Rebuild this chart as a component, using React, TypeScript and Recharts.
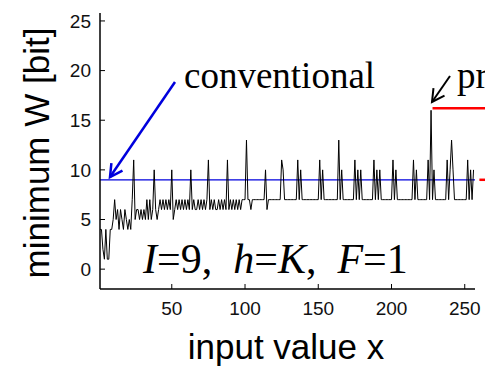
import { LineChart, Line, XAxis, YAxis, ReferenceLine } from "recharts";

// minimum W [bit] for input value x = 1..256
const minWidth = [
  4, 4, 2, 1, 4, 1, 1, 4, 4, 5, 7, 5, 6, 4, 6, 5,
  4, 6, 5, 4, 5, 4, 7, 11, 5, 6, 6, 5, 6, 5, 6, 5,
  7, 5, 7, 5, 6, 10, 6, 5, 6, 7, 6, 7, 6, 7, 6, 7,
  6, 10, 5, 6, 7, 6, 7, 6, 7, 6, 7, 6, 7, 6, 10, 6,
  7, 6, 6, 7, 6, 7, 6, 7, 6, 7, 11, 6, 7, 6, 7, 6,
  6, 7, 6, 7, 6, 7, 6, 11, 6, 7, 6, 7, 6, 7, 6, 7,
  6, 7, 7, 7, 13, 7, 7, 6, 7, 7, 7, 7, 7, 7, 7, 7,
  7, 10, 6, 7, 7, 7, 7, 7, 7, 7, 7, 7, 11, 10, 7, 7,
  7, 7, 7, 7, 7, 7, 7, 11, 7, 10, 7, 7, 7, 7, 7, 7,
  7, 7, 7, 7, 7, 7, 11, 7, 10, 7, 7, 7, 7, 7, 7, 7,
  7, 7, 7, 13, 7, 10, 7, 7, 7, 7, 7, 7, 7, 7, 11, 7,
  10, 7, 10, 7, 7, 7, 7, 7, 7, 7, 7, 11, 7, 10, 7, 10,
  7, 7, 7, 7, 7, 7, 7, 7, 11, 7, 10, 7, 7, 7, 7, 7,
  7, 7, 7, 7, 7, 7, 11, 7, 10, 7, 7, 7, 7, 7, 7, 7,
  11, 7, 16, 7, 10, 7, 7, 7, 7, 7, 7, 7, 7, 11, 7, 10,
  13, 10, 7, 7, 7, 7, 7, 7, 7, 7, 7, 11, 7, 10, 7, 10,
];

const xTicks = [50, 100, 150, 200, 250];
const yTicks = [0, 5, 10, 15, 20, 25];
const conventionalLevel = 9;
const proposedLevel = 16.2;

const data = minWidth.map((w, i) => ({ x: i + 1, w }));

const sans = "'Liberation Sans', Arial, sans-serif";
const serif = "'Liberation Serif', 'Times New Roman', serif";

function Arrow({ x1, y1, x2, y2, color, width }: { x1: number; y1: number; x2: number; y2: number; color: string; width: number }) {
  const ang = Math.atan2(y1 - y2, x1 - x2);
  const len = 14;
  const a = [x2 + len * Math.cos(ang + 0.5), y2 + len * Math.sin(ang + 0.5)];
  const b = [x2 + len * Math.cos(ang - 0.5), y2 + len * Math.sin(ang - 0.5)];
  return (
    <g stroke={color} strokeWidth={width} fill="none">
      <line x1={x1} y1={y1} x2={x2} y2={y2} />
      <polyline points={`${a[0]},${a[1]} ${x2},${y2} ${b[0]},${b[1]}`} />
    </g>
  );
}

export default function App() {
  const blank = () => "";
  return (
    <div style={{ position: "absolute", left: 0, top: 0, width: 485, height: 366, overflow: "hidden", background: "#fff" }}>
      <LineChart width={485} height={366} data={data} margin={{ top: 13, right: 10, bottom: 37, left: 40 }}>
        <XAxis
          dataKey="x"
          type="number"
          domain={[1, 257]}
          ticks={xTicks}
          allowDataOverflow
          height={40}
          tickSize={-5}
          tickMargin={18}
          axisLine={{ stroke: "#000", strokeWidth: 1.5 }}
          tickLine={{ stroke: "#000" }}
          tick={{ fontSize: 19, fill: "#111", fontFamily: sans }}
        />
        <XAxis
          xAxisId="top"
          orientation="top"
          dataKey="x"
          type="number"
          domain={[1, 257]}
          ticks={xTicks}
          height={0}
          tickSize={-5}
          tickFormatter={blank}
          axisLine={{ stroke: "#000", strokeWidth: 1.5 }}
          tickLine={{ stroke: "#000" }}
        />
        <YAxis
          type="number"
          domain={[-2, 25.8]}
          ticks={yTicks}
          allowDataOverflow
          width={60}
          tickSize={-5}
          tickMargin={14}
          axisLine={{ stroke: "#000", strokeWidth: 1.5 }}
          tickLine={{ stroke: "#000" }}
          tick={{ fontSize: 19, fill: "#111", fontFamily: sans }}
        />
        <YAxis
          yAxisId="right"
          orientation="right"
          type="number"
          domain={[-2, 25.8]}
          ticks={yTicks}
          width={0}
          tickSize={-5}
          tickFormatter={blank}
          axisLine={{ stroke: "#000", strokeWidth: 2 }}
          tickLine={{ stroke: "#000" }}
        />
        <ReferenceLine y={conventionalLevel} stroke="#0000dd" strokeWidth={1.2} />
        <Line
          type="linear"
          dataKey="w"
          stroke="#000"
          strokeWidth={1}
          dot={false}
          isAnimationActive={false}
        />
        <ReferenceLine
          segment={[{ x: 228, y: proposedLevel }, { x: 266, y: proposedLevel }]}
          ifOverflow="visible"
          stroke="#ff0000"
          strokeWidth={2.5}
        />
        <ReferenceLine
          segment={[{ x: 260, y: conventionalLevel }, { x: 266, y: conventionalLevel }]}
          ifOverflow="visible"
          stroke="#ff0000"
          strokeWidth={2.5}
        />
      </LineChart>
      <svg width={485} height={366} style={{ position: "absolute", left: 0, top: 0, pointerEvents: "none" }}>
        <text x={184} y={88} fontFamily={serif} fontSize={37} fill="#000">conventional</text>
        <text x={457} y={88} fontFamily={serif} fontSize={37} fill="#000">proposed</text>
        <Arrow x1={175} y1={82} x2={110} y2={177} color="#0000dd" width={2.5} />
        <Arrow x1={450} y1={76} x2={432} y2={102} color="#000" width={2} />
        <text x={143} y={273} fontFamily={serif} fontSize={42} fill="#000" style={{ whiteSpace: "pre" }}>
          <tspan fontStyle="italic">I</tspan>
          <tspan>{"=9,  "}</tspan>
          <tspan fontStyle="italic">h</tspan>
          <tspan>=</tspan>
          <tspan fontStyle="italic">K</tspan>
          <tspan>{",  "}</tspan>
          <tspan fontStyle="italic">F</tspan>
          <tspan>=1</tspan>
        </text>
        <text
          transform="translate(49,153) rotate(-90)"
          textAnchor="middle"
          fontFamily={sans}
          fontSize={35}
          fill="#000"
        >
          minimum W [bit]
        </text>
        <text x={286} y={359} textAnchor="middle" fontFamily={sans} fontSize={35} fill="#000">
          input value x
        </text>
      </svg>
    </div>
  );
}
